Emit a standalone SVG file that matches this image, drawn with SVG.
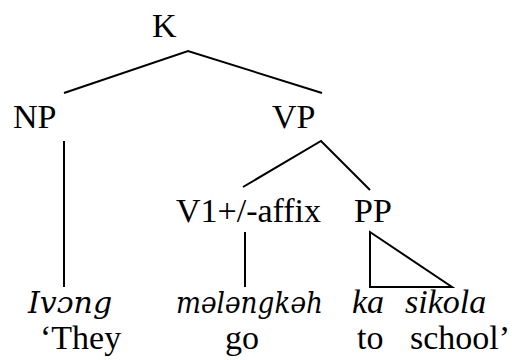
<svg xmlns="http://www.w3.org/2000/svg" width="514" height="360" viewBox="0 0 514 360">
<rect width="514" height="360" fill="#fff"/>
<g id="edges" stroke="#000" stroke-width="2" fill="none">
<polyline points="64,93 188,51 322,93"/>
<line x1="64" y1="141" x2="64" y2="287"/>
<polyline points="243,187 321,141 370,190"/>
<line x1="245" y1="232" x2="245" y2="287"/>
<polygon points="370,232 370,287 452,287"/>
</g>
<g id="K"><text x="152" y="37" font-family="Liberation Serif" font-size="34">K</text></g>
<g id="NP"><text x="13" y="128" font-family="Liberation Serif" font-size="34">NP</text></g>
<g id="VP"><text x="272" y="128" font-family="Liberation Serif" font-size="34">VP</text></g>
<g id="V1"><text x="176" y="222" font-family="Liberation Serif" font-size="34">V1+/-affix</text></g>
<g id="PP"><text x="354" y="222" font-family="Liberation Serif" font-size="34">PP</text></g>
<g id="w1"><text x="28" y="313" font-family="DejaVu Serif" font-size="30" font-style="italic">Ivɔng</text><text x="40" y="349" font-family="Liberation Serif" font-size="34">‘They</text></g>
<g id="w2"><text x="176" y="313" font-family="DejaVu Serif" font-size="30" font-style="italic" textLength="147" lengthAdjust="spacingAndGlyphs">mələngkəh</text><text x="225" y="349" font-family="Liberation Serif" font-size="34">go</text></g>
<g id="w3"><text x="352" y="313" font-family="Liberation Serif" font-size="34" font-style="italic">ka</text><text x="405" y="313" font-family="Liberation Serif" font-size="34" font-style="italic">sikola</text><text x="357" y="349" font-family="Liberation Serif" font-size="34">to</text><text x="410" y="349" font-family="Liberation Serif" font-size="34">school’</text></g>
</svg>
